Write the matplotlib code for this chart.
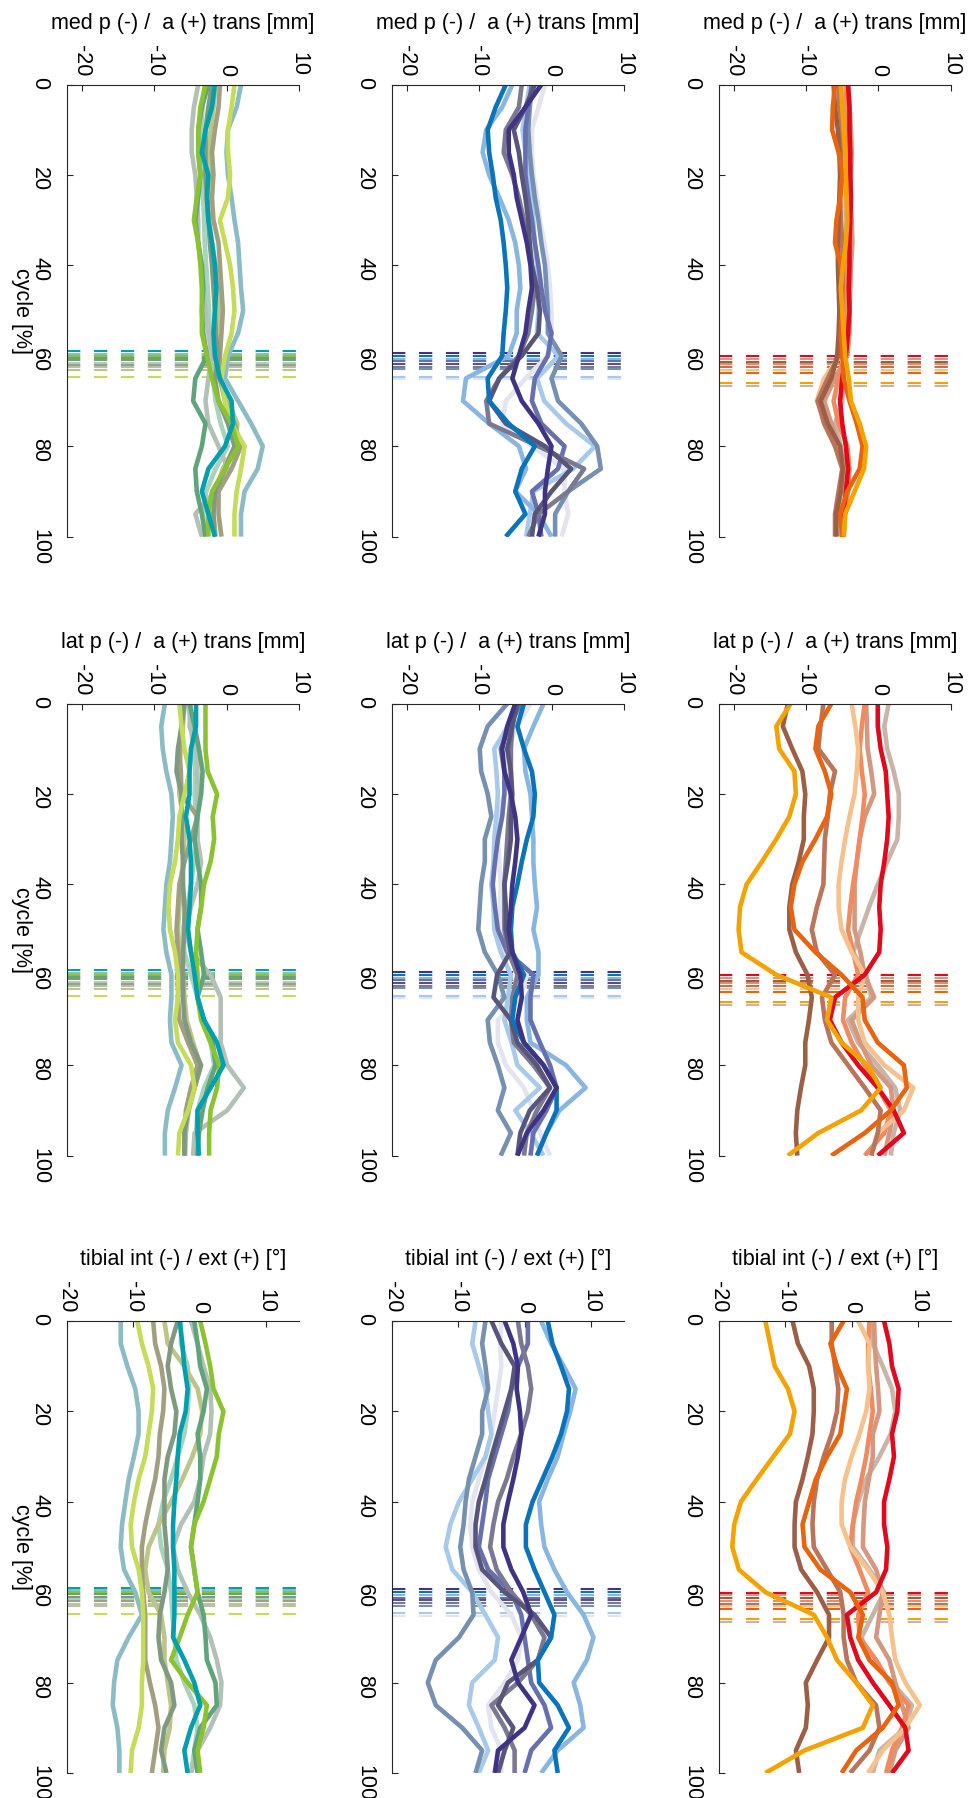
import matplotlib
matplotlib.use("Agg")
import matplotlib.pyplot as plt

plt.rcParams["font.family"] = ["Liberation Sans", "DejaVu Sans"]
plt.rcParams["axes.unicode_minus"] = False
plt.rcParams["lines.scale_dashes"] = False

# gait cycle sample points [%]
cycle = list(range(0, 101, 5))

# ---------------- warm group (right column) ----------------
warm_colors = ["#c8b4a8", "#d4977f", "#f08a5f", "#f5c18c", "#b9745a",
               "#9c5f45", "#e10a1d", "#e8640f", "#f5a200"]
warm_toe = [66.6, 60.7, 61.9, 63.1, 62.5, 61.3, 60.1, 63.7, 66.0]

warm_med = [
    [-5.0, -4.8, -4.6, -4.6, -4.7, -4.6, -4.5, -4.6, -4.7, -4.7, -4.6, -4.6, -4.6, -4.8, -5.0, -6.0, -5.2, -4.6, -5.3, -5.2, -5.0],
    [-4.2, -4.0, -3.8, -3.7, -3.8, -3.9, -3.7, -3.6, -3.8, -3.9, -4.0, -4.0, -4.3, -6.0, -7.5, -6.5, -5.5, -4.5, -4.6, -5.0, -5.2],
    [-4.6, -4.4, -4.3, -4.4, -4.5, -4.3, -4.2, -4.4, -4.5, -4.4, -4.3, -4.4, -4.6, -5.5, -6.2, -5.5, -4.3, -4.0, -4.2, -4.6, -4.8],
    [-5.0, -5.2, -5.3, -5.1, -5.0, -5.0, -5.2, -5.3, -5.2, -5.1, -5.2, -5.2, -5.3, -7.5, -8.5, -7.0, -5.5, -4.8, -5.0, -5.3, -5.0],
    [-5.5, -5.4, -5.0, -5.2, -5.1, -5.3, -5.2, -5.0, -4.9, -5.0, -5.1, -5.2, -5.5, -7.0, -8.4, -7.5, -6.0, -5.0, -5.5, -6.0, -6.0],
    [-6.2, -6.0, -5.6, -5.4, -5.3, -5.4, -5.5, -5.6, -5.6, -5.5, -5.4, -5.5, -5.7, -6.5, -8.0, -7.0, -5.3, -4.9, -5.2, -5.8, -5.8],
    [-4.2, -4.0, -4.0, -3.9, -3.9, -3.8, -3.9, -4.0, -4.0, -4.1, -4.0, -4.2, -4.5, -5.0, -5.3, -5.0, -4.5, -4.2, -4.5, -4.8, -5.0],
    [-6.0, -6.3, -6.4, -5.5, -5.0, -5.3, -5.8, -6.0, -5.2, -5.0, -5.0, -5.2, -5.0, -4.8, -4.0, -3.0, -2.2, -2.6, -4.3, -5.3, -5.0],
    [-5.2, -5.0, -4.8, -4.6, -4.5, -4.4, -4.3, -4.5, -4.9, -5.2, -5.0, -4.8, -4.6, -4.1, -3.8, -2.6, -1.7, -2.0, -3.3, -4.6, -4.8],
]
warm_lat = [
    [1.4, 0.8, 1.2, 2.1, 2.8, 2.8, 2.6, 1.2, -0.1, -1.3, -2.4, -3.5, -1.7, -1.0, -4.2, -2.8, -0.1, 2.3, 3.0, 2.1, 1.7],
    [-1.7, -1.6, -1.5, -1.0, -0.6, -1.9, -2.6, -3.0, -3.3, -3.3, -3.3, -2.5, -1.9, -0.6, -3.7, -2.5, -1.0, 1.7, 2.1, 1.5, 0.8],
    [-1.9, -2.3, -2.6, -2.3, -1.9, -2.2, -2.6, -3.0, -3.5, -3.9, -4.2, -3.5, -2.8, -4.6, -4.9, -3.7, -1.9, -0.1, 1.7, 0.8, -1.9],
    [-3.7, -3.2, -2.8, -3.0, -3.3, -4.0, -4.6, -5.1, -5.5, -5.5, -5.1, -3.7, -1.9, -2.8, -2.8, -1.9, 0.8, 4.8, 3.5, -0.1, -1.0],
    [-7.6, -8.0, -8.3, -6.0, -6.7, -7.0, -7.4, -7.5, -7.6, -8.5, -9.2, -8.5, -6.0, -7.8, -7.4, -6.5, -4.2, -1.9, 0.3, -0.1, -1.0],
    [-12.5, -13.2, -11.9, -10.5, -10.1, -10.3, -10.3, -11.0, -11.9, -12.3, -12.3, -11.4, -9.8, -9.2, -9.6, -10.1, -10.1, -10.7, -11.2, -11.4, -11.2],
    [-0.1, -0.1, 0.3, 1.0, 1.2, 1.4, 1.2, 0.8, 0.3, 0.1, 0.3, 0.1, -1.9, -6.0, -6.7, -5.1, -2.8, -0.1, 2.1, 3.5, -0.1],
    [-6.5, -8.3, -8.7, -7.4, -6.5, -7.1, -8.7, -10.5, -11.6, -12.1, -11.6, -8.7, -5.1, -2.2, -1.9, -0.1, 3.5, 3.9, 1.7, -1.9, -6.5],
    [-12.1, -14.1, -13.7, -11.6, -11.4, -12.3, -14.1, -16.1, -18.2, -19.1, -19.3, -18.9, -14.1, -6.5, -7.1, -5.1, -1.5, 0.3, -2.4, -8.3, -12.5],
]
warm_tib = [
    [3.2, 3.2, 4.7, 6.1, 6.6, 5.9, 4.2, 2.2, 1.0, 0.2, 0.2, 2.7, 4.9, 3.2, 1.5, 2.7, 6.1, 9.1, 8.1, 4.2, 3.2],
    [3.4, 3.5, 3.7, 4.0, 4.2, 3.2, 3.2, 2.6, 2.0, 1.8, 1.7, 3.7, 4.7, 4.2, 3.7, 5.7, 6.6, 7.6, 8.6, 6.6, 5.7],
    [2.7, 2.5, 2.5, 2.9, 3.2, 2.7, 2.2, 1.5, 0.7, 0.2, -0.2, 1.2, 2.5, 1.0, 1.2, 3.7, 5.7, 8.6, 7.6, 6.1, 5.2],
    [1.0, 2.7, 2.5, 2.7, 2.2, 1.2, 0.0, -1.0, -1.5, -1.5, -0.2, 2.5, 4.7, 5.7, 6.1, 6.6, 8.1, 10.3, 8.1, 4.7, 2.5],
    [-3.0, -3.0, -2.5, -2.0, -2.2, -3.0, -4.2, -5.2, -5.7, -5.9, -5.7, -3.7, -1.7, -1.2, -1.2, -0.7, 0.7, 3.7, 4.2, 2.7, -0.2],
    [-8.9, -8.1, -6.4, -5.7, -5.7, -5.9, -6.6, -7.4, -8.4, -8.6, -8.6, -7.6, -5.2, -3.4, -3.4, -5.2, -6.9, -6.6, -6.9, -8.4, -7.9],
    [4.9, 5.7, 6.1, 7.1, 6.9, 6.1, 6.4, 5.7, 4.9, 4.9, 5.4, 5.2, 3.7, -0.7, -0.2, 1.0, 3.2, 5.7, 8.1, 8.6, 6.1],
    [-1.2, -3.2, -2.2, -0.7, -1.2, -1.7, -3.7, -5.4, -6.4, -7.4, -7.1, -4.7, -0.2, 1.7, 1.0, 2.7, 6.1, 7.1, 4.7, 0.7, -1.5],
    [-13.0, -12.3, -11.6, -9.6, -8.6, -9.3, -11.8, -14.3, -16.7, -17.7, -18.0, -17.0, -13.0, -5.7, -3.7, -2.2, 0.7, 3.2, 1.7, -7.1, -13.0],
]

# ---------------- cool group (middle column) ----------------
cool_colors = ["#e4e3f0", "#a8caea", "#88b6e0", "#7590b0", "#6670ae",
               "#7a7991", "#57567a", "#0b73ba", "#3f3484"]
cool_toe = [65.2, 64.6, 60.6, 63.0, 61.2, 62.4, 61.8, 60.0, 59.4]

cool_med = [
    [-0.9, -1.8, -2.7, -2.7, -2.5, -2.0, -1.6, -1.0, -0.5, -0.2, 0.0, 0.0, -0.5, -3.6, -6.3, -6.8, -2.7, 1.8, 1.8, 2.3, 1.4],
    [-3.0, -3.5, -4.0, -3.6, -3.2, -2.8, -2.5, -2.3, -2.0, -1.8, -1.8, -2.0, 1.0, -2.0, -1.0, 2.0, 6.0, 3.0, -2.5, -3.0, -3.5],
    [-5.4, -6.8, -9.0, -9.5, -8.6, -7.2, -5.9, -5.0, -4.5, -4.3, -4.8, -4.8, -5.9, -11.8, -12.2, -8.6, -4.5, -3.5, -5.0, -1.8, 0.0],
    [-2.7, -3.0, -3.2, -3.0, -2.7, -2.3, -1.8, -1.4, -0.9, -0.7, -0.5, -0.5, 1.4, 0.0, 0.9, 4.1, 6.3, 6.8, 2.3, 0.5, 0.5],
    [-2.7, -3.2, -3.6, -3.6, -3.6, -3.2, -2.7, -2.3, -1.8, -1.4, -0.9, 0.0, -0.5, -2.3, -2.7, -1.4, 1.8, 0.9, -2.7, -1.8, -1.4],
    [-4.1, -4.5, -6.3, -6.6, -5.4, -4.5, -3.8, -3.2, -2.7, -2.3, -2.7, -3.2, -4.5, -7.2, -9.0, -8.6, -1.8, 4.5, 2.3, -1.8, -3.2],
    [-2.3, -3.6, -5.2, -4.5, -4.1, -3.6, -3.2, -3.0, -2.7, -2.0, -1.6, -1.8, -4.1, -7.2, -8.6, -6.3, -0.9, 2.7, 0.0, -2.3, -2.7],
    [-6.3, -7.7, -8.8, -8.6, -8.1, -7.7, -7.0, -6.6, -6.3, -6.1, -6.3, -6.6, -6.8, -8.8, -8.6, -5.9, -2.3, -4.1, -5.0, -3.6, -6.3],
    [-1.4, -3.6, -5.9, -5.9, -5.2, -4.8, -4.1, -3.4, -2.9, -2.7, -3.2, -3.6, -4.5, -5.4, -4.1, -1.8, 0.0, -0.5, -0.9, -0.9, -1.8],
]
cool_lat = [
    [-2.9, -4.7, -6.1, -6.1, -6.5, -7.4, -7.4, -7.2, -7.0, -7.1, -7.2, -6.5, -3.4, -4.3, -7.4, -7.4, -6.3, -3.8, -2.5, -1.6, -0.2],
    [-4.0, -6.0, -7.9, -7.6, -7.4, -7.6, -7.9, -8.0, -8.3, -8.0, -7.9, -7.0, -5.6, -6.0, -6.5, -5.5, -4.7, -1.6, -5.0, -2.9, -1.1],
    [-1.1, -2.5, -3.8, -3.6, -2.9, -2.7, -2.5, -2.5, -2.3, -2.0, -2.5, -1.8, -1.8, -3.4, -3.4, -2.9, 2.0, 4.7, 1.1, -0.7, -2.0],
    [-6.1, -8.8, -9.9, -9.7, -8.8, -8.3, -9.2, -9.2, -9.7, -9.9, -10.1, -9.2, -7.4, -6.5, -8.8, -8.5, -7.4, -6.5, -7.4, -5.6, -7.0],
    [-4.3, -5.8, -7.0, -6.5, -6.5, -6.8, -7.4, -7.8, -8.1, -7.8, -7.4, -6.1, -2.5, -2.9, -2.9, -1.6, -0.2, 0.7, -0.7, -2.5, -2.9],
    [-5.0, -5.4, -5.6, -5.6, -5.6, -5.9, -6.1, -6.3, -6.5, -6.5, -6.5, -5.9, -4.7, -5.4, -5.6, -5.2, -2.5, -0.2, -2.0, -3.4, -3.8],
    [-4.7, -5.4, -6.1, -5.6, -5.4, -5.6, -5.6, -6.0, -6.5, -6.3, -6.3, -5.7, -7.5, -8.0, -5.6, -4.7, -2.0, -0.2, -3.0, -4.3, -4.7],
    [-3.8, -4.7, -3.8, -2.7, -2.3, -2.5, -3.4, -4.1, -4.7, -5.4, -5.6, -5.4, -3.8, -5.0, -5.4, -3.8, -1.1, 0.7, 0.7, -0.7, -2.0],
    [-5.0, -6.1, -6.8, -6.5, -5.6, -5.0, -4.7, -5.0, -5.4, -5.6, -5.9, -5.4, -4.3, -4.1, -4.7, -3.8, -1.1, 0.7, -1.1, -3.4, -4.7],
]
cool_tib = [
    [-3.5, -3.7, -3.5, -4.0, -4.5, -5.0, -5.9, -6.9, -7.9, -8.2, -7.9, -6.9, -5.0, -2.0, -0.5, -1.0, -3.0, -5.5, -5.0, -3.5, -3.5],
    [-7.4, -7.9, -6.9, -5.9, -5.5, -5.0, -5.9, -7.9, -9.9, -11.2, -11.9, -10.9, -7.9, -5.9, -4.0, -4.5, -7.9, -8.4, -6.9, -5.5, -6.9],
    [2.5, 4.0, 5.9, 7.7, 6.9, 5.9, 5.0, 3.5, 2.2, 2.5, 3.0, 4.5, 6.4, 8.9, 10.4, 9.4, 7.4, 8.4, 8.9, 5.0, 2.5],
    [-5.9, -6.4, -5.9, -5.5, -6.4, -6.4, -7.4, -8.4, -8.9, -9.2, -9.7, -9.2, -7.9, -7.7, -9.9, -13.4, -14.6, -13.4, -9.4, -6.4, -7.4],
    [0.5, 0.5, -1.0, -2.0, -2.5, -3.5, -4.5, -5.5, -5.9, -6.4, -6.9, -5.5, -2.0, -0.5, 0.0, 0.5, 1.0, 3.0, 4.0, 1.0, 0.0],
    [-1.0, -0.5, 0.5, 1.0, 0.5, -0.5, -1.7, -2.7, -4.0, -4.7, -5.2, -4.2, -2.0, 1.0, 3.0, 2.0, -1.0, -5.0, -3.0, -1.5, -1.5],
    [-5.0, -3.5, -1.5, -2.0, -3.0, -4.0, -5.0, -5.9, -6.9, -7.4, -7.4, -6.4, -3.0, 1.5, 4.0, 2.0, -2.5, -4.0, -1.7, -3.0, -4.0],
    [3.5, 4.2, 5.5, 6.7, 6.4, 5.5, 4.2, 2.7, 1.2, 0.2, 0.2, 1.5, 3.0, 4.5, 4.0, 2.0, 2.2, 5.0, 6.7, 4.5, 5.0],
    [-3.0, -1.7, -1.0, -1.2, -0.7, -0.5, -1.0, -1.7, -2.5, -3.2, -3.2, -2.0, -0.2, 1.0, -0.5, -2.0, -1.0, 1.5, 0.0, -4.0, -4.5],
]

# ---------------- green group (left column) ----------------
green_colors = ["#a7d2bb", "#b3c0b6", "#bdc487", "#a29f80", "#7f9a80",
                "#5fa47a", "#8bbcc5", "#c5dc58", "#8bc22f", "#009fae"]
green_toe = [61.5, 62.5, 63.1, 62.0, 61.0, 60.5, 59.5, 64.8, 60.0, 59.0]

green_med = [
    [-3.0, -3.3, -3.5, -3.6, -3.4, -3.2, -3.1, -3.0, -2.8, -2.6, -2.4, -2.3, -2.2, -1.9, -1.5, -0.8, 0.2, -1.5, -2.8, -3.2, -3.0],
    [-3.9, -4.5, -4.8, -4.8, -4.3, -4.1, -3.9, -3.9, -3.4, -3.2, -2.9, -2.5, -2.0, -2.5, -2.9, -2.5, -1.1, 0.2, -1.6, -4.3, -3.4],
    [-1.5, -1.8, -2.2, -2.5, -2.4, -2.6, -2.4, -2.0, -1.5, -1.2, -1.0, -1.3, -1.5, -1.0, 0.2, 1.5, 1.2, -0.5, -1.5, -1.8, -1.5],
    [-0.9, -1.1, -1.6, -2.0, -1.8, -2.0, -1.8, -1.1, -0.9, -0.7, -0.5, -0.7, -0.9, -0.9, -0.2, 1.1, 2.0, 0.7, -1.1, -1.1, -0.7],
    [-2.0, -2.5, -2.9, -2.9, -2.9, -2.7, -2.5, -2.3, -2.0, -1.8, -1.6, -1.5, -1.1, -1.6, -1.1, 0.2, 1.1, -0.2, -1.6, -1.8, -1.6],
    [-2.5, -3.4, -3.9, -3.9, -3.6, -3.9, -4.3, -3.9, -3.4, -3.2, -3.4, -3.2, -2.7, -4.3, -4.6, -2.9, -3.4, -4.3, -4.1, -3.4, -2.9],
    [2.0, 1.4, 0.2, 0.0, 0.2, 0.7, 1.1, 1.6, 1.8, 2.0, 2.3, 1.6, 0.2, -0.2, 1.6, 3.4, 5.0, 4.3, 2.5, 2.0, 2.0],
    [1.1, 0.7, 0.2, 0.2, 0.5, 0.2, -0.9, -0.2, 0.5, 0.9, 1.1, 0.7, -0.2, -0.7, -0.2, 0.7, 2.5, 2.0, 1.4, 1.1, 1.1],
    [-2.9, -3.6, -3.9, -3.9, -3.6, -4.1, -4.5, -3.9, -3.6, -3.4, -3.4, -3.4, -2.7, -2.0, -1.1, 0.7, 1.6, -0.2, -2.0, -2.5, -2.5],
    [-1.6, -2.0, -2.9, -3.4, -2.5, -2.7, -2.5, -2.0, -1.6, -1.4, -1.6, -1.8, -1.6, -0.9, 0.7, 0.9, -0.2, -2.5, -3.4, -2.5, -1.6],
]
green_lat = [
    [-5.3, -4.9, -4.6, -4.3, -4.4, -4.2, -4.0, -4.5, -4.9, -5.4, -6.0, -5.8, -4.9, -4.0, -3.3, -2.2, -1.7, -3.1, -4.0, -4.2, -4.4],
    [-4.9, -5.1, -4.2, -4.0, -4.0, -4.0, -4.0, -3.5, -4.0, -4.9, -5.6, -4.9, -2.2, -0.8, -0.8, -0.8, 0.1, 2.4, 0.1, -4.4, -4.6],
    [-5.8, -6.0, -6.3, -6.6, -6.5, -6.0, -5.8, -6.0, -6.3, -6.5, -6.7, -6.4, -6.0, -5.8, -5.5, -4.6, -3.6, -4.4, -5.2, -5.6, -5.7],
    [-6.0, -6.2, -6.5, -6.3, -6.2, -4.0, -4.9, -5.8, -6.5, -6.7, -6.9, -6.7, -6.5, -6.7, -6.5, -5.3, -4.0, -4.9, -5.6, -5.8, -5.8],
    [-5.8, -6.2, -6.7, -6.9, -6.2, -6.2, -6.2, -6.0, -6.0, -5.8, -5.8, -6.0, -6.0, -6.0, -5.8, -4.9, -3.5, -4.4, -5.3, -5.8, -5.8],
    [-5.1, -4.4, -3.8, -3.3, -3.5, -4.0, -4.4, -4.0, -3.5, -3.5, -4.0, -3.5, -3.1, -4.0, -3.1, -1.9, -1.5, -2.6, -3.3, -3.8, -4.0],
    [-8.5, -9.0, -8.8, -8.3, -7.6, -7.4, -7.6, -7.8, -8.3, -8.5, -8.7, -8.3, -7.6, -7.6, -7.8, -7.6, -6.2, -7.1, -8.1, -8.5, -8.5],
    [-6.5, -6.2, -5.8, -5.1, -5.8, -6.5, -6.7, -7.1, -7.8, -8.0, -7.8, -7.1, -6.7, -6.7, -7.1, -6.7, -4.9, -4.4, -5.3, -6.5, -6.7],
    [-2.9, -2.9, -2.9, -2.6, -1.3, -1.9, -1.7, -2.2, -3.1, -3.5, -4.0, -4.2, -4.0, -4.0, -3.5, -2.2, -1.0, -1.3, -2.2, -2.4, -2.4],
    [-4.2, -4.2, -4.9, -5.1, -5.1, -5.6, -5.1, -4.9, -4.9, -5.1, -5.3, -4.9, -4.4, -4.0, -3.1, -1.3, -0.4, -2.2, -4.0, -4.0, -3.8],
]
green_tib = [
    [-2.8, -2.8, -1.8, -1.6, -1.8, -2.3, -3.3, -4.3, -5.5, -6.2, -5.8, -4.8, -4.3, -4.1, -3.8, -3.5, -2.3, -0.8, -0.3, -0.8, -1.3],
    [-1.3, -0.3, 0.6, 1.6, 1.8, 1.6, 0.6, 0.1, -0.8, -2.8, -4.0, -3.3, -1.8, 0.1, 1.6, 2.6, 3.3, 3.1, 1.6, -0.3, -1.3],
    [-5.3, -4.8, -2.3, -0.3, 0.4, 0.1, -1.1, -2.6, -4.3, -6.2, -7.7, -8.2, -7.7, -5.8, -5.3, -5.3, -4.8, -4.3, -4.5, -5.3, -5.5],
    [-7.0, -6.7, -5.8, -5.3, -5.5, -6.0, -6.2, -6.7, -7.5, -8.2, -8.7, -8.7, -8.5, -8.2, -8.2, -8.2, -7.5, -6.7, -6.2, -6.7, -7.2],
    [-3.3, -4.3, -4.8, -4.3, -3.5, -3.8, -4.8, -5.3, -5.3, -5.3, -5.0, -4.8, -5.3, -6.0, -6.2, -5.8, -4.3, -3.8, -5.3, -5.8, -5.0],
    [-0.8, -0.3, 0.1, 1.1, 0.6, -0.3, 0.1, 0.1, -0.3, -0.8, -1.3, -0.8, -0.3, 0.6, 0.9, 1.1, 2.4, 2.6, 0.1, -0.8, -0.3],
    [-11.9, -11.9, -10.9, -9.7, -9.2, -9.2, -9.9, -10.7, -11.2, -11.7, -11.9, -11.4, -9.7, -8.7, -10.7, -12.4, -12.9, -13.1, -12.4, -12.1, -12.1],
    [-9.4, -8.7, -7.7, -7.0, -7.2, -7.7, -8.2, -9.2, -9.9, -10.4, -10.2, -9.2, -8.7, -8.5, -8.5, -8.5, -8.7, -8.7, -9.2, -10.2, -10.4],
    [0.1, 0.9, 1.6, 2.1, 3.6, 2.9, 2.6, 1.6, 0.6, -0.8, -1.3, -0.8, -0.3, -1.8, -3.0, -4.3, -1.8, 1.1, 0.6, -0.3, 0.1],
    [-3.0, -2.6, -2.3, -1.8, -2.1, -3.0, -3.3, -3.5, -3.8, -4.0, -4.0, -3.8, -3.8, -3.8, -4.0, -2.3, -0.8, 0.1, -1.3, -2.3, -1.8],
]

row_labels = ["med p (-) /  a (+) trans [mm]",
              "lat p (-) /  a (+) trans [mm]",
              "tibial int (-) / ext (+) [\u00b0]"]
trans_ticks = [-20, -10, 0, 10]
cycle_ticks = [0, 20, 40, 60, 80, 100]

W, H = 979, 1798
fig = plt.figure(figsize=(W / 100, H / 100), dpi=100)

col_left = [67, 392, 719]      # px
row_top = [84.6, 703.6, 1321]  # px
ax_w, ax_h = 232, 452
fs = 15.5

groups = [
    (green_colors, green_toe, [green_med, green_lat, green_tib]),
    (cool_colors, cool_toe, [cool_med, cool_lat, cool_tib]),
    (warm_colors, warm_toe, [warm_med, warm_lat, warm_tib]),
]

for ci, (colors, toe, panels) in enumerate(groups):
    for ri, curves in enumerate(panels):
        ax = fig.add_axes([col_left[ci] / W, 1 - (row_top[ri] + ax_h) / H,
                           ax_w / W, ax_h / H])
        for t, c in zip(toe, colors):
            ax.axhline(t, color=c, lw=1.5, dashes=(9.6, 9.8))
        for vals, c in zip(curves, colors):
            ax.plot(vals, cycle, color=c, lw=3.3, solid_joinstyle="round",
                    solid_capstyle="butt")
        if ri < 2:
            ax.set_xlim(-22, 10)
        else:
            ax.set_xlim(-20, 15)
        ax.set_ylim(100, 0)
        ax.set_xticks(trans_ticks)
        ax.set_yticks(cycle_ticks)
        ax.xaxis.tick_top()
        ax.spines["right"].set_visible(False)
        ax.spines["bottom"].set_visible(False)
        for s in ["top", "left"]:
            ax.spines[s].set_linewidth(0.8)
            ax.spines[s].set_color("#262626")
        ax.tick_params(direction="in", length=4, width=0.8, labelsize=fs,
                       color="#262626")
        ax.tick_params(axis="x", labelrotation=-90, pad=6)
        ax.tick_params(axis="y", labelrotation=-90, pad=12)
        ax.annotate(row_labels[ri], xy=(0.5, 1), xycoords="axes fraction",
                    xytext=(0, 44), textcoords="offset points",
                    ha="center", va="center", fontsize=fs)
        if ci == 0:
            ax.annotate("cycle [%]", xy=(0, 0.5), xycoords="axes fraction",
                        xytext=(-33, 0), textcoords="offset points",
                        ha="center", va="center", rotation=-90, fontsize=fs)

fig.savefig("out.png", dpi=100)
